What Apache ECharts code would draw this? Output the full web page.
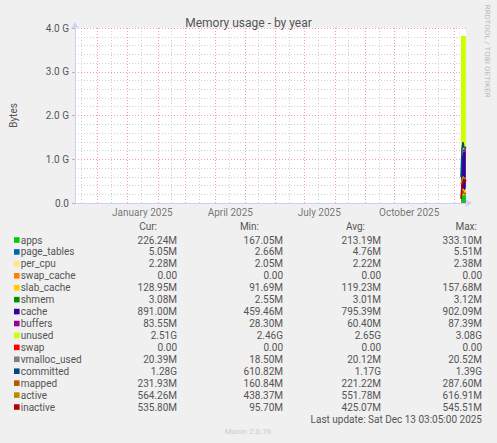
<!DOCTYPE html>
<html><head><meta charset="utf-8">
<script src="https://cdn.jsdelivr.net/npm/echarts@6/dist/echarts.min.js"></script>
<style>html,body{margin:0;padding:0;background:#F0F0F0}#c{width:497px;height:443px}</style>
</head><body><div id="c"></div>
<script>
// ---- data (MiB, daily) ----
const days = ['2025-12-08','2025-12-09','2025-12-10','2025-12-11','2025-12-12','2025-12-13'];
const rangeStart = '2024-11-08T03:05:00Z';
const rangeEnd = '2025-12-13T03:05:00Z';
const monthStarts = ['2024-12-01','2025-01-01','2025-02-01','2025-03-01','2025-04-01','2025-05-01','2025-06-01','2025-07-01','2025-08-01','2025-09-01','2025-10-01','2025-11-01','2025-12-01'];
const midMonths = ['2024-11-15','2024-12-15','2025-01-15','2025-02-15','2025-03-15','2025-04-15','2025-05-15','2025-06-15','2025-07-15','2025-08-15','2025-09-15','2025-10-15','2025-11-15'];
const labelDates = ['2025-01-16','2025-04-16','2025-07-16','2025-10-16'];
const labelTexts = ['January 2025','April 2025','July 2025','October 2025'];
const yTicks = [0, 1024, 2048, 3072, 4096];
const yTickLabels = ['0.0','1.0 G','2.0 G','3.0 G','4.0 G'];

const apps        = [333.10, 167.05, 190.00, 180.00, 182.00, 226.24];
const pageTables  = [2.66, 5.20, 5.51, 5.30, 4.80, 5.05];
const perCpu      = [2.05, 2.15, 2.38, 2.25, 2.20, 2.28];
const swapCache   = [0, 0, 0, 0, 0, 0];
const slabCache   = [91.69, 105.00, 157.68, 120.00, 112.00, 128.95];
const shmem       = [2.55, 3.10, 3.12, 3.12, 3.09, 3.08];
const cache       = [459.46, 780.00, 860.00, 880.00, 902.09, 891.00];
const buffers     = [28.30, 45.00, 60.00, 58.00, 87.39, 83.55];
const unused      = [2990, 2802, 2631, 2661, 2616, 2570];
const swap        = [0, 0, 0, 0, 0, 0];
const vmallocUsed = [18.50, 20.40, 20.52, 20.50, 20.40, 20.39];
const committed   = [610.82, 1250, 1423, 1300, 1290, 1311];
const mapped      = [160.84, 200.00, 287.60, 225.00, 222.00, 231.93];
const active      = [438.37, 530.00, 616.91, 580.00, 580.00, 564.26];
const inactive    = [95.70, 420.00, 470.00, 545.51, 483.40, 535.80];

const names  = ['apps','page_tables','per_cpu','swap_cache','slab_cache','shmem','cache','buffers','unused','swap','vmalloc_used','committed','mapped','active','inactive'];
const colors = ['#00CC00','#0066B3','#FFE680','#FF8000','#FFCC00','#008F00','#330099','#990099','#CCFF00','#FF0000','#808080','#00487D','#B35A00','#B38F00','#B30000'];
const stacked = [true,true,true,true,true,true,true,true,true,true,false,false,false,false,false];
const values = [apps,pageTables,perCpu,swapCache,slabCache,shmem,cache,buffers,unused,swap,vmallocUsed,committed,mapped,active,inactive];

const colHeaders = ['Cur:','Min:','Avg:','Max:'];
const curVals = ['226.24M','5.05M','2.28M','0.00','128.95M','3.08M','891.00M','83.55M','2.51G','0.00','20.39M','1.28G','231.93M','564.26M','535.80M'];
const minVals = ['167.05M','2.66M','2.05M','0.00','91.69M','2.55M','459.46M','28.30M','2.46G','0.00','18.50M','610.82M','160.84M','438.37M','95.70M'];
const avgVals = ['213.19M','4.76M','2.22M','0.00','119.23M','3.01M','795.39M','60.40M','2.65G','0.00','20.12M','1.17G','221.22M','551.78M','425.07M'];
const maxVals = ['333.10M','5.51M','2.38M','0.00','157.68M','3.12M','902.09M','87.39M','3.08G','0.00','20.52M','1.39G','287.60M','616.91M','545.51M'];
const lastUpdate = 'Last update: Sat Dec 13 03:05:00 2025';
const titleText = 'Memory usage - by year';
const yName = 'Bytes';
const sideText = 'RRDTOOL / TOBI OETIKER';
const footer = 'Munin 2.0.76';

// ---- build ----
const ts = s => Date.parse(s.length === 10 ? s + 'T00:00:00Z' : s);
const FONT = 'Roboto, "Open Sans", sans-serif';
const TXT = '#555555';
const majorGrid = {color: 'rgba(230,110,110,0.65)', width: 1, type: [1, 2]};
const minorGrid = {color: 'rgba(165,165,165,0.55)', width: 1, type: [1, 2]};

const series = names.map((n, i) => ({
  name: n, type: 'line', symbol: 'none', animation: false,
  stack: stacked[i] ? 'mem' : undefined,
  data: days.map((d, k) => [ts(d), values[i][k]]),
  lineStyle: stacked[i] ? {width: 0, color: colors[i]} : {width: 1.5, color: colors[i]},
  itemStyle: {color: colors[i]},
  areaStyle: stacked[i] ? {color: colors[i], opacity: 1} : undefined,
  z: 3
}));
const carrier = (name, ml) => ({
  type: 'line', name, data: [[ts(rangeStart), null]], symbol: 'none', silent: true, animation: false, z: 1,
  markLine: Object.assign({silent: true, symbol: ['none','none'], animation: false, label: {show: false}}, ml)
});
series.unshift(
  carrier('gridMinor', {lineStyle: minorGrid, data: midMonths.map(d => ({xAxis: ts(d)}))}),
  carrier('gridMajor', {lineStyle: majorGrid, data: monthStarts.map(d => ({xAxis: ts(d)}))}),
  {
    type: 'scatter', name: 'xLabels', silent: true, animation: false, symbolSize: 1,
    itemStyle: {color: 'rgba(0,0,0,0)'},
    data: labelDates.map((d, k) => ({value: [ts(d), 0], name: labelTexts[k]})),
    label: {show: true, position: 'bottom', distance: 4, formatter: '{b}', fontFamily: FONT, fontSize: 10, color: TXT}
  }
);

const rowY0 = 240, rowH = 11.93;
const graphics = [];
const valueRight = [177, 283, 381, 482];
const headerRight = [157, 259, 365, 477];
const txt = (text, x, y, align, size, fill, extra) => Object.assign({
  type: 'text', silent: true, x: x, y: y,
  style: {text, font: size + 'px ' + FONT, fill: fill || TXT,
    textAlign: align, textVerticalAlign: 'middle'}
}, extra || {});
colHeaders.forEach((h, j) => graphics.push(txt(h, headerRight[j], 226, 'right', 10)));
const cols = [curVals, minVals, avgVals, maxVals];
names.forEach((n, i) => {
  const y = rowY0 + i * rowH;
  graphics.push({type: 'rect', silent: true, shape: {x: 14, y: y - 2.8, width: 5.6, height: 5.6}, style: {fill: colors[i]}});
  graphics.push(txt(n, 20.7, y, 'left', 10));
  cols.forEach((c, j) => graphics.push(txt(c[i], valueRight[j], y, 'right', 10)));
});
graphics.push(txt(lastUpdate, 482, 419, 'right', 10));
graphics.push(txt(footer, 248, 431, 'center', 8, '#CCCCCC'));
graphics.push(txt(sideText, 487.5, 51, 'center', 8, '#BBBBBB', {rotation: -Math.PI / 2}));

const chart = echarts.init(document.getElementById('c'), null, {renderer: 'svg'});
chart.setOption({
  backgroundColor: '#F0F0F0',
  animation: false,
  title: {text: titleText, left: 'center', top: 12, textStyle: {fontFamily: FONT, fontSize: 12, fontWeight: 'normal', color: TXT}},
  grid: {left: 67, right: 31, top: 28, bottom: 240, backgroundColor: '#FFFFFF', show: true, borderWidth: 0},
  xAxis: {
    type: 'time', min: ts(rangeStart), max: ts(rangeEnd),
    axisLine: {show: true, lineStyle: {color: '#C8D2F5', width: 1}, symbol: ['none','arrow'], symbolSize: [6, 7], symbolOffset: [0, 6]},
    axisTick: {show: false},
    splitLine: {show: false},
    axisLabel: {show: false}
  },
  yAxis: {
    type: 'value', min: 0, max: 4096, interval: 1024,
    name: yName, nameLocation: 'middle', nameGap: 57, nameRotate: 90,
    nameTextStyle: {fontFamily: FONT, fontSize: 10, color: TXT},
    axisLine: {show: true, lineStyle: {color: '#C8D2F5', width: 1}, symbol: ['none','arrow'], symbolSize: [6, 7], symbolOffset: [0, 6]},
    axisTick: {show: true, length: 3, lineStyle: {color: 'rgba(230,110,110,0.6)'}},
    axisLabel: {fontFamily: FONT, fontSize: 10, color: TXT, margin: 6,
      formatter: v => { const k = yTicks.indexOf(v); return k >= 0 ? yTickLabels[k] : ''; }},
    splitLine: {show: true, lineStyle: majorGrid},
    minorTick: {show: false, splitNumber: 5},
    minorSplitLine: {show: true, lineStyle: minorGrid}
  },
  graphic: graphics,
  series
});
</script></body></html>
